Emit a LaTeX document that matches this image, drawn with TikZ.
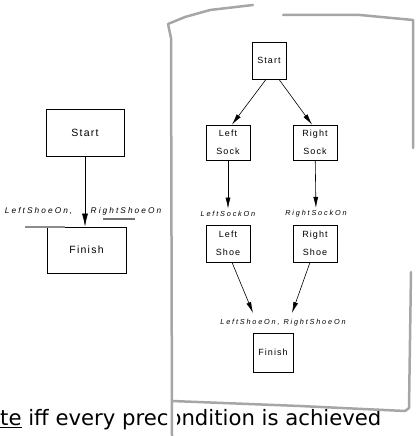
\documentclass[tikz,border=0pt]{standalone}
\usepackage{fontspec}
\usepackage{tikz}
\usetikzlibrary{arrows.meta,positioning}

\newfontfamily\diafont[LetterSpace=12]{Liberation Sans}
\newfontfamily\lblfont[LetterSpace=25]{Liberation Sans}
\newfontfamily\slidefont{DejaVu Sans}

\begin{document}
\begin{tikzpicture}[x=1pt,y=-1pt]
\tikzstyle{opbox}=[draw,line width=0.8pt,inner sep=0pt,align=center,
  font=\diafont\fontsize{9}{18}\selectfont]
\tikzstyle{bigbox}=[opbox,font=\diafont\fontsize{10.5}{12}\selectfont]
\tikzstyle{cond}=[inner sep=2.5pt,font=\lblfont\itshape\fontsize{7.3}{8}\selectfont]
\tikzstyle{bigcond}=[cond,font=\lblfont\itshape\fontsize{8.3}{9}\selectfont]
\tikzstyle{flow}=[-{Latex[length=11pt,width=5pt]},line width=0.6pt]
\tikzstyle{sheet}=[black!35,line width=2.5pt,line join=round,line cap=round]

\useasboundingbox (0,0) rectangle (415,436);

%% Slide text under the sheet
\node[anchor=base west,inner sep=0pt,font=\slidefont\fontsize{21.2}{24}\selectfont]
  (iffnote) at (0,425) {\underline{te} iff every precondition is achieved};

%% Plan with only Start and Finish
\node [bigbox,minimum width=78pt,minimum height=47pt] (startL) at (85,132.5) {Start};
\node [bigbox,minimum width=79pt,minimum height=46pt] (finL) at (86.5,250) {Finish};
\node [bigcond,anchor=east] (preL) at (75,211.5) {LeftShoeOn,};
\node [bigcond,anchor=west] (preR) at (88,211.5) {RightShoeOn};
\draw[flow,-{Latex[length=13pt,width=6pt]}] (startL.south) -- (startL.south |- finL.north);

% marks under the labels
\draw[black!45,line width=2pt] (25,227) -- (65,227);
\draw[black!55,line width=1.2pt] (103,219) -- (135,219);

%% The sheet
\draw[white,line width=9pt] (172,436) -- (172,300);
\draw[sheet] (172,436) -- (171,38) -- (168,24) -- (185,17) -- (210,10) -- (253,5);
\draw[sheet] (283,15) -- (360,15) -- (413,20) -- (413,148);
\draw[sheet] (411,272) -- (409,408) -- (405,411) -- (300,406) -- (172,401);

%% Socks and shoes plan
\node [opbox,minimum width=34pt,minimum height=37pt] (startR) at (269,60.5) {Start};
\node [opbox,minimum width=44pt,minimum height=35pt] (lsock) at (228,142.5) {Left\\Sock};
\node [opbox,minimum width=44pt,minimum height=35pt] (rsock) at (315,142.5) {Right\\Sock};
\node [cond] (lsockon) at (228,214) {LeftSockOn};
\node [cond] (rsockon) at (316,214) {RightSockOn};
\node [opbox,minimum width=44pt,minimum height=37pt] (lshoe) at (228,243.5) {Left\\Shoe};
\node [opbox,minimum width=44pt,minimum height=37pt] (rshoe) at (315,243.5) {Right\\Shoe};
\node [cond] (shoeson) at (283,323) {LeftShoeOn, RightShoeOn};
\node [opbox,minimum width=40pt,minimum height=39pt] (finR) at (273,352.5) {Finish};

\coordinate (inL) at (253,313);
\coordinate (inR) at (292,313);

\draw[flow] ([xshift=-3pt]startR.south) -- ([xshift=4pt]lsock.north);
\draw[flow] ([xshift=10pt]startR.south) -- ([xshift=-3pt]rsock.north);
\draw[flow] (lsock) -- (lsockon);
\draw[flow] (rsock) -- (rsockon);
\draw[flow] ([xshift=4pt]lshoe.south) -- (inL);
\draw[flow] ([xshift=-5pt]rshoe.south) -- (inR);

\end{tikzpicture}
\end{document}
